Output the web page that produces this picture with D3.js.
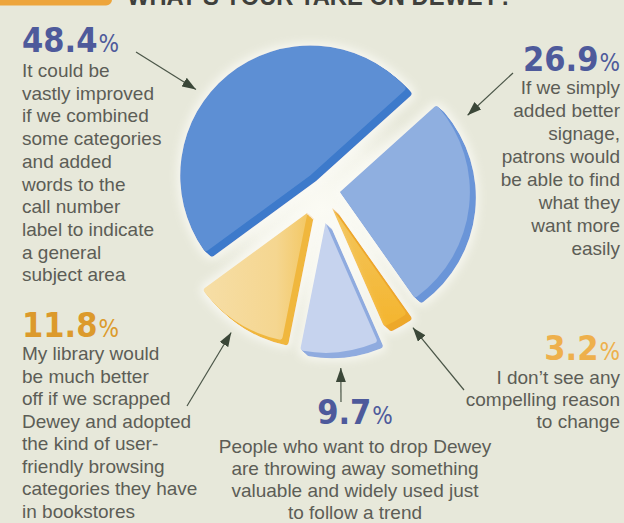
<!DOCTYPE html>
<html>
<head>
<meta charset="utf-8">
<script src="https://cdn.jsdelivr.net/npm/d3@7"></script>
<style>
  html, body { margin: 0; padding: 0; background: #e7e8da; }
  svg { display: block; }
</style>
</head>
<body>
<svg id="chart" width="624" height="523"></svg>
<script>
// Survey answers, listed clockwise starting from the "signage" wedge
const answerKeys = ["signage", "noReason", "keepDewey", "bookstore", "combine"];
const shares = [26.9, 3.2, 9.7, 11.8, 48.4];
const captions = [
  ["If we simply", "added better", "signage,", "patrons would", "be able to find", "what they", "want more", "easily"],
  ["I don\u2019t see any", "compelling reason", "to change"],
  ["People who want to drop Dewey", "are throwing away something", "valuable and widely used just", "to follow a trend"],
  ["My library would", "be much better", "off if we scrapped", "Dewey and adopted", "the kind of user-", "friendly browsing", "categories they have", "in bookstores"],
  ["It could be", "vastly improved", "if we combined", "some categories", "and added", "words to the", "call number", "label to indicate", "a general", "subject area"]
];
const titleText = "WHAT\u2019S YOUR TAKE ON DEWEY?";

// ---- styling ----
const faceColors = ["#8fafe0", "#f4bb40", "#c6d3ee", "#f5da9e", "#5d8fd4"];
const sideColors = ["#6b95d8", "#eda82c", "#8fabdf", "#f0b73e", "#3c7acb"];
const valueColors = ["#4e5a9b", "#eeb04c", "#4e5a9b", "#dc9a2c", "#4e5a9b"];
const explode = [18, 20, 33, 27, 18.7];
const textGray = "#5c5d56";

// ---- layout ----
const W = 624, H = 523;
const cx = 322, cy = 190, R = 130;
const startDeg = 48;
const labelLayout = [
  { x: 620, y: 71, anchor: "end", lineY: 94, step: 23, tail: [513, 73], tipPad: 19, tipDeg: 59 },
  { x: 620, y: 360, anchor: "end", lineY: 384, step: 22, tail: [464, 390], tipPad: 15, tipDeg: 146 },
  { x: 355, y: 424, anchor: "middle", lineY: 453, step: 22, tail: [341, 402], tipPad: 16, tipDeg: 174 },
  { x: 22, y: 337, anchor: "start", lineY: 360, step: 22.5, tail: [187, 406], tipPad: 12, tipDeg: 212.5 },
  { x: 22, y: 52, anchor: "start", lineY: 77, step: 22.7, tail: [136, 52], tipPad: 13, tipDeg: 307 }
];

const svg = d3.select("#chart");
const defs = svg.append("defs");
const rad = d => d * Math.PI / 180;

svg.append("rect").attr("width", W).attr("height", H).attr("fill", "#e7e8da");

// soft light behind the pie centre
const glow = defs.append("radialGradient").attr("id", "glow");
glow.append("stop").attr("offset", "0%").attr("stop-color", "#fbfbf4").attr("stop-opacity", 1);
glow.append("stop").attr("offset", "55%").attr("stop-color", "#f8f8f0").attr("stop-opacity", 0.8);
glow.append("stop").attr("offset", "100%").attr("stop-color", "#f4f4ea").attr("stop-opacity", 0);
svg.append("circle").attr("cx", cx).attr("cy", cy + 20).attr("r", 120).attr("fill", "url(#glow)");

// white halo round each wedge
const halo = defs.append("filter").attr("id", "halo").attr("x", "-20%").attr("y", "-20%").attr("width", "140%").attr("height", "140%");
halo.append("feMorphology").attr("in", "SourceAlpha").attr("operator", "dilate").attr("radius", 3).attr("result", "d");
halo.append("feGaussianBlur").attr("in", "d").attr("stdDeviation", 4).attr("result", "b");
halo.append("feFlood").attr("flood-color", "#fbfbf6").attr("flood-opacity", 0.75);
halo.append("feComposite").attr("in2", "b").attr("operator", "in").attr("result", "h");
const hm = halo.append("feMerge");
hm.append("feMergeNode").attr("in", "h");
hm.append("feMergeNode").attr("in", "SourceGraphic");

// gentle gradients on the two yellow wedge faces
const yg = defs.append("linearGradient").attr("id", "yellowFace").attr("x1", "0%").attr("x2", "100%").attr("y1", "0%").attr("y2", "0%");
yg.append("stop").attr("offset", "0%").attr("stop-color", "#f6dea6");
yg.append("stop").attr("offset", "70%").attr("stop-color", "#f5d690");
yg.append("stop").attr("offset", "100%").attr("stop-color", "#f3c865");
const og = defs.append("linearGradient").attr("id", "orangeFace").attr("x1", "0%").attr("x2", "0%").attr("y1", "0%").attr("y2", "100%");
og.append("stop").attr("offset", "0%").attr("stop-color", "#f3c65e");
og.append("stop").attr("offset", "100%").attr("stop-color", "#f4b52f");
const faceFill = (d, i) => i === 3 ? "url(#yellowFace)" : (i === 1 ? "url(#orangeFace)" : faceColors[i]);

const pie = d3.pie().sort(null).value(d => d)
  .startAngle(rad(startDeg)).endAngle(rad(startDeg) + 2 * Math.PI);
const arcs = pie(shares);
const arc = d3.arc().innerRadius(0).outerRadius(R).cornerRadius(3);

// offset of each wedge from the pie centre along its mid angle
const wedgeOrigin = (d, i) => {
  const m = (d.startAngle + d.endAngle) / 2;
  return [cx + explode[i] * Math.sin(m), cy - explode[i] * Math.cos(m)];
};

const wedges = svg.append("g").selectAll("g.wedge").data(arcs).join("g")
  .attr("class", "wedge")
  .attr("transform", (d, i) => { const o = wedgeOrigin(d, i); return `translate(${o[0]},${o[1]})`; })
  .attr("filter", "url(#halo)");

// extruded side, then the face on top
const depth = d3.range(1, 7);
wedges.each(function (d, i) {
  const g = d3.select(this);
  depth.forEach(k => {
    g.append("path").attr("d", arc(d)).attr("fill", sideColors[i])
      .attr("transform", `translate(${k},${k * 0.9})`);
  });
  g.append("path").attr("d", arc(d)).attr("fill", faceFill(d, i));
});

// arrowheads
defs.append("marker").attr("id", "head")
  .attr("viewBox", "0 0 14 10").attr("refX", 14).attr("refY", 5)
  .attr("markerWidth", 14).attr("markerHeight", 10).attr("markerUnits", "userSpaceOnUse")
  .attr("orient", "auto")
  .append("path").attr("d", "M0,0 L14,5 L0,10 Z").attr("fill", "#3b4738");

svg.append("g").selectAll("line").data(arcs).join("line")
  .attr("x1", (d, i) => labelLayout[i].tail[0])
  .attr("y1", (d, i) => labelLayout[i].tail[1])
  .attr("x2", (d, i) => wedgeOrigin(d, i)[0] + (R + labelLayout[i].tipPad) * Math.sin(rad(labelLayout[i].tipDeg)))
  .attr("y2", (d, i) => wedgeOrigin(d, i)[1] - (R + labelLayout[i].tipPad) * Math.cos(rad(labelLayout[i].tipDeg)))
  .attr("stroke", "#4a5547").attr("stroke-width", 1.2)
  .attr("marker-end", "url(#head)");

// value labels and captions
const fmt = d3.format(".1f");
const labels = svg.append("g").selectAll("g").data(arcs).join("g");
labels.each(function (d, i) {
  const L = labelLayout[i];
  const g = d3.select(this);
  const v = g.append("text").attr("x", L.x).attr("y", L.y).attr("text-anchor", L.anchor)
    .attr("font-family", "'DejaVu Sans Condensed', 'DejaVu Sans', sans-serif")
    .attr("font-weight", "bold").attr("fill", valueColors[i]);
  v.append("tspan").attr("font-size", 34).text(fmt(d.data));
  v.append("tspan").attr("font-size", 24).attr("font-weight", "normal").attr("dx", 1).text("%");
  g.append("text").attr("text-anchor", L.anchor)
    .attr("font-family", "'Liberation Sans', Arial, sans-serif")
    .attr("font-size", 19).attr("fill", textGray)
    .selectAll("tspan").data(captions[i]).join("tspan")
    .attr("x", L.x).attr("y", (t, j) => L.lineY + j * L.step).text(t => t);
});

// header strip, cut by the top edge
svg.append("rect").attr("x", -10).attr("y", -20).attr("width", 122).attr("height", 25.5).attr("rx", 6)
  .attr("fill", "#eda53c");
svg.append("text").attr("x", 127).attr("y", 5).attr("textLength", 386).attr("lengthAdjust", "spacingAndGlyphs")
  .attr("font-family", "'Liberation Sans', Arial, sans-serif").attr("font-weight", "bold")
  .attr("font-size", 26).attr("fill", "#3f403c").text(titleText);
</script>
</body>
</html>
